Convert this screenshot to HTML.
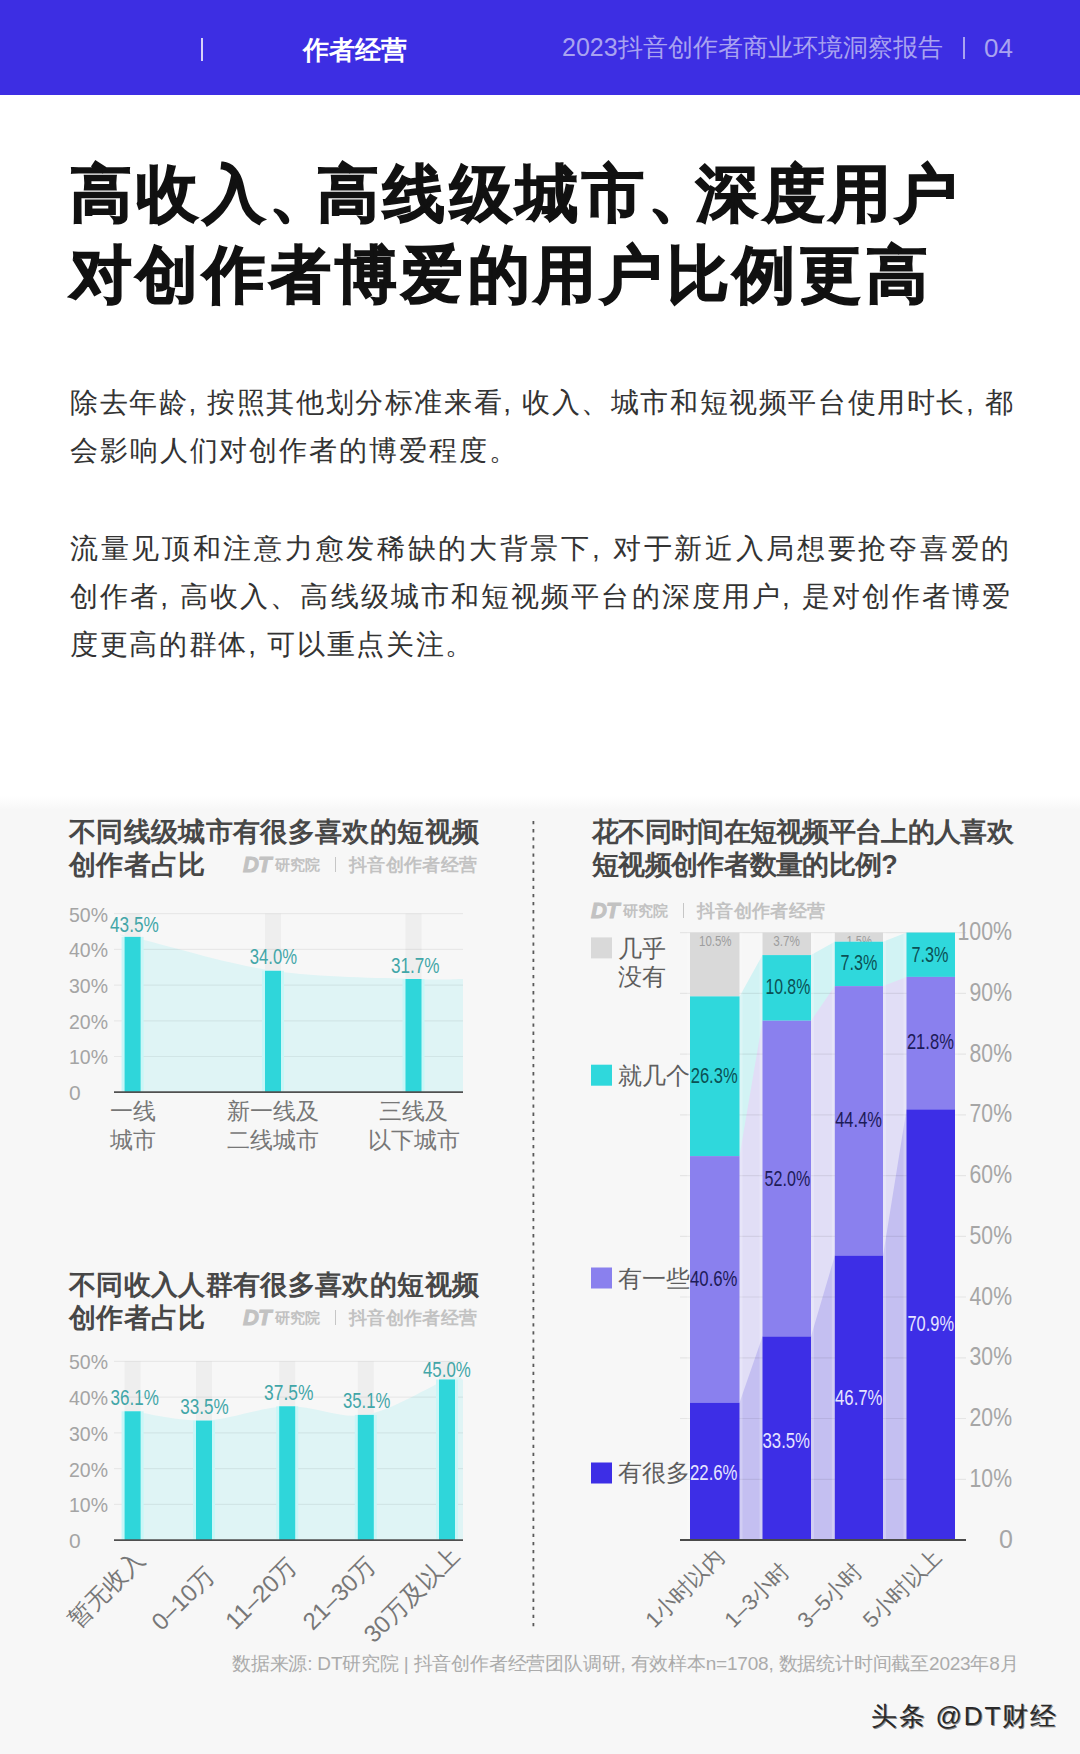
<!DOCTYPE html>
<html><head><meta charset="utf-8">
<style>
*{margin:0;padding:0;box-sizing:border-box}
html,body{width:1080px;height:1754px;overflow:hidden;background:#fff}
body{position:relative;font-family:"Liberation Sans",sans-serif;color:#333}
.a{position:absolute;white-space:nowrap;line-height:1}
#hdr{position:absolute;left:0;top:0;width:1080px;height:95px;background:#3d2ee3}
#gray{position:absolute;left:0;top:796px;width:1080px;height:958px;background:linear-gradient(#fff 0px,#f7f7f7 14px)}
.title{font-size:62px;font-weight:900;color:#111;letter-spacing:4.3px;-webkit-text-stroke:1.5px #111}
.sep{letter-spacing:-14px}
.para{font-size:28px;color:#333}
.ct{font-size:27px;font-weight:700;color:#474747}
.logo{font-size:18px;font-weight:700;color:#c2c2c2}
.dt{font-size:22px;font-weight:700;font-style:italic;color:#c2c2c2;-webkit-text-stroke:1px #c2c2c2;letter-spacing:-1px}
.yj{font-size:15px;font-weight:700;color:#c2c2c2}
svg{position:absolute;left:0;top:0}
svg text{font-family:"Liberation Sans",sans-serif}
.yl{font-size:21px;fill:#a4a4a4}
.vl{font-size:22px;fill:#42a6a8}
.cl{font-size:23px;fill:#777}
.rl{font-size:24px;fill:#777}
.rl2{font-size:22px;fill:#777}
.gl{font-size:15px;fill:#9d9d9d}
.sl{font-size:22px}
.ry{font-size:25px;fill:#a6a6a6}
.lg{font-size:24px;fill:#5e5e5e}
</style></head><body>
<div id="hdr"></div>
<div class="a" style="left:201px;top:38px;width:2px;height:23px;background:#d6d2f8"></div>
<div class="a" style="left:303px;top:37px;font-size:26px;font-weight:700;color:#fff">作者经营</div>
<div class="a" style="left:562px;top:35px;font-size:25px;color:#a9a3f0;letter-spacing:0px">2023抖音创作者商业环境洞察报告</div>
<div class="a" style="left:963px;top:37px;width:1.5px;height:22px;background:#a9a3f0"></div>
<div class="a" style="left:984px;top:35px;font-size:26px;color:#a9a3f0">04</div>

<div class="a title" style="left:70px;top:163px">高收入<span class="sep">、</span>高线级城市<span class="sep">、</span>深度用户</div>
<div class="a title" style="left:70px;top:244px">对创作者博爱的用户比例更高</div>

<div class="a para" style="left:70px;top:389px;letter-spacing:1.6px">除去年龄, 按照其他划分标准来看, 收入、城市和短视频平台使用时长, 都</div>
<div class="a para" style="left:70px;top:437px;letter-spacing:1.9px">会影响人们对创作者的博爱程度。</div>
<div class="a para" style="left:70px;top:535px;letter-spacing:2.7px">流量见顶和注意力愈发稀缺的大背景下, 对于新近入局想要抢夺喜爱的</div>
<div class="a para" style="left:70px;top:583px;letter-spacing:2.1px">创作者, 高收入、高线级城市和短视频平台的深度用户, 是对创作者博爱</div>
<div class="a para" style="left:70px;top:631px;letter-spacing:1.7px">度更高的群体, 可以重点关注。</div>

<div id="gray"></div>

<div class="a ct" style="left:69px;top:819px;letter-spacing:0.35px">不同线级城市有很多喜欢的短视频</div>
<div class="a ct" style="left:69px;top:852px;letter-spacing:0.35px">创作者占比</div>
<div class="a ct" style="left:69px;top:1272px;letter-spacing:0.35px">不同收入人群有很多喜欢的短视频</div>
<div class="a ct" style="left:69px;top:1305px;letter-spacing:0.35px">创作者占比</div>
<div class="a ct" style="left:592px;top:819px;letter-spacing:-0.7px">花不同时间在短视频平台上的人喜欢</div>
<div class="a ct" style="left:592px;top:852px;letter-spacing:-0.7px">短视频创作者数量的比例?</div>

<div class="a dt" style="left:243px;top:853.5px">DT</div>
<div class="a yj" style="left:274.5px;top:856.5px">研究院</div>
<div class="a" style="left:334.5px;top:857px;width:1.5px;height:15px;background:#c6c6c6"></div>
<div class="a logo" style="left:349px;top:855.5px;letter-spacing:0.35px">抖音创作者经营</div>
<div class="a dt" style="left:243px;top:1306.5px">DT</div>
<div class="a yj" style="left:274.5px;top:1309.5px">研究院</div>
<div class="a" style="left:334.5px;top:1310px;width:1.5px;height:15px;background:#c6c6c6"></div>
<div class="a logo" style="left:349px;top:1308.5px;letter-spacing:0.35px">抖音创作者经营</div>
<div class="a dt" style="left:591px;top:899.5px">DT</div>
<div class="a yj" style="left:622.5px;top:902.5px">研究院</div>
<div class="a" style="left:682.5px;top:903px;width:1.5px;height:15px;background:#c6c6c6"></div>
<div class="a logo" style="left:697px;top:901.5px;letter-spacing:0.35px">抖音创作者经营</div>

<svg width="1080" height="1754" viewBox="0 0 1080 1754">
<line x1="533.4" y1="821" x2="533.4" y2="1627" stroke="#5a5a5a" stroke-width="1.8" stroke-dasharray="3.3 4.8"/>
<rect x="124.6" y="913.7" width="16" height="178.5" fill="#eeeeee"/>
<rect x="265" y="913.7" width="16" height="178.5" fill="#eeeeee"/>
<rect x="405.5" y="913.7" width="16" height="178.5" fill="#eeeeee"/>
<path d="M124.6,1092.2 L124.6,936.9 C125.9,936.9 107.9,931.3 132.6,936.9 C157.3,942.6 226.2,963.8 273,970.8 C319.8,977.8 381.8,977.7 413.5,979 C445.2,980.4 454.8,979 463,979 L463,1092.2 Z" fill="#dff4f5"/>
<line x1="114" y1="913.7" x2="463" y2="913.7" stroke="#000" stroke-opacity="0.06" stroke-width="1.2"/>
<line x1="114" y1="949.4" x2="463" y2="949.4" stroke="#000" stroke-opacity="0.06" stroke-width="1.2"/>
<line x1="114" y1="985.1" x2="463" y2="985.1" stroke="#000" stroke-opacity="0.06" stroke-width="1.2"/>
<line x1="114" y1="1020.8" x2="463" y2="1020.8" stroke="#000" stroke-opacity="0.06" stroke-width="1.2"/>
<line x1="114" y1="1056.5" x2="463" y2="1056.5" stroke="#000" stroke-opacity="0.06" stroke-width="1.2"/>
<rect x="121.6" y="936.9" width="22" height="155.3" fill="#c9f6f7"/>
<rect x="262" y="970.8" width="22" height="121.4" fill="#c9f6f7"/>
<rect x="402.5" y="979" width="22" height="113.2" fill="#c9f6f7"/>
<rect x="124.6" y="936.9" width="16" height="155.3" fill="#2fd6da"/>
<text x="110" y="931.7" textLength="48.8" lengthAdjust="spacingAndGlyphs" class="vl">43.5%</text>
<rect x="265" y="970.8" width="16" height="121.4" fill="#2fd6da"/>
<text x="249.7" y="964.4" textLength="47.3" lengthAdjust="spacingAndGlyphs" class="vl">34.0%</text>
<rect x="405.5" y="979" width="16" height="113.2" fill="#2fd6da"/>
<text x="390.9" y="972.5" textLength="48.6" lengthAdjust="spacingAndGlyphs" class="vl">31.7%</text>
<line x1="114" y1="1092.2" x2="463" y2="1092.2" stroke="#505050" stroke-width="1.8"/>
<text x="69" y="921.5" class="yl" textLength="39" lengthAdjust="spacingAndGlyphs">50%</text>
<text x="69" y="957.2" class="yl" textLength="39" lengthAdjust="spacingAndGlyphs">40%</text>
<text x="69" y="992.9" class="yl" textLength="39" lengthAdjust="spacingAndGlyphs">30%</text>
<text x="69" y="1028.6" class="yl" textLength="39" lengthAdjust="spacingAndGlyphs">20%</text>
<text x="69" y="1064.3" class="yl" textLength="39" lengthAdjust="spacingAndGlyphs">10%</text>
<text x="69" y="1100" class="yl">0</text>
<text x="132.6" y="1119" class="cl" text-anchor="middle">一线</text>
<text x="132.6" y="1148" class="cl" text-anchor="middle">城市</text>
<text x="273" y="1119" class="cl" text-anchor="middle">新一线及</text>
<text x="273" y="1148" class="cl" text-anchor="middle">二线城市</text>
<text x="413.5" y="1119" class="cl" text-anchor="middle">三线及</text>
<text x="413.5" y="1148" class="cl" text-anchor="middle">以下城市</text>
<rect x="124.6" y="1361.4" width="16" height="178.8" fill="#eeeeee"/>
<rect x="196" y="1361.4" width="16" height="178.8" fill="#eeeeee"/>
<rect x="279.2" y="1361.4" width="16" height="178.8" fill="#eeeeee"/>
<rect x="357.8" y="1361.4" width="16" height="178.8" fill="#eeeeee"/>
<rect x="439" y="1361.4" width="16" height="178.8" fill="#eeeeee"/>
<path d="M124.6,1540.2 L124.6,1411.3 C125.9,1411.3 119.4,1409.8 132.6,1411.3 C145.8,1412.9 178.2,1421.4 204,1420.6 C229.8,1419.8 260.2,1407.3 287.2,1406.3 C314.2,1405.4 339.2,1419.4 365.8,1414.9 C392.4,1410.4 430.8,1385.4 447,1379.5 C463.2,1373.7 460.3,1379.5 463,1379.5 L463,1540.2 Z" fill="#dff4f5"/>
<line x1="114" y1="1361.4" x2="463" y2="1361.4" stroke="#000" stroke-opacity="0.06" stroke-width="1.2"/>
<line x1="114" y1="1397.1" x2="463" y2="1397.1" stroke="#000" stroke-opacity="0.06" stroke-width="1.2"/>
<line x1="114" y1="1432.9" x2="463" y2="1432.9" stroke="#000" stroke-opacity="0.06" stroke-width="1.2"/>
<line x1="114" y1="1468.7" x2="463" y2="1468.7" stroke="#000" stroke-opacity="0.06" stroke-width="1.2"/>
<line x1="114" y1="1504.4" x2="463" y2="1504.4" stroke="#000" stroke-opacity="0.06" stroke-width="1.2"/>
<rect x="121.6" y="1411.3" width="22" height="128.9" fill="#c9f6f7"/>
<rect x="193" y="1420.6" width="22" height="119.6" fill="#c9f6f7"/>
<rect x="276.2" y="1406.3" width="22" height="133.9" fill="#c9f6f7"/>
<rect x="354.8" y="1414.9" width="22" height="125.3" fill="#c9f6f7"/>
<rect x="436" y="1379.5" width="22" height="160.7" fill="#c9f6f7"/>
<rect x="124.6" y="1411.3" width="16" height="128.9" fill="#2fd6da"/>
<text x="110.5" y="1405.2" textLength="48.3" lengthAdjust="spacingAndGlyphs" class="vl">36.1%</text>
<rect x="196" y="1420.6" width="16" height="119.6" fill="#2fd6da"/>
<text x="180.2" y="1413.7" textLength="48.5" lengthAdjust="spacingAndGlyphs" class="vl">33.5%</text>
<rect x="279.2" y="1406.3" width="16" height="133.9" fill="#2fd6da"/>
<text x="264" y="1400" textLength="49.4" lengthAdjust="spacingAndGlyphs" class="vl">37.5%</text>
<rect x="357.8" y="1414.9" width="16" height="125.3" fill="#2fd6da"/>
<text x="343" y="1408.2" textLength="47.4" lengthAdjust="spacingAndGlyphs" class="vl">35.1%</text>
<rect x="439" y="1379.5" width="16" height="160.7" fill="#2fd6da"/>
<text x="423" y="1377" textLength="47.8" lengthAdjust="spacingAndGlyphs" class="vl">45.0%</text>
<line x1="114" y1="1540.2" x2="463" y2="1540.2" stroke="#505050" stroke-width="1.8"/>
<text x="69" y="1369.2" class="yl" textLength="39" lengthAdjust="spacingAndGlyphs">50%</text>
<text x="69" y="1404.9" class="yl" textLength="39" lengthAdjust="spacingAndGlyphs">40%</text>
<text x="69" y="1440.7" class="yl" textLength="39" lengthAdjust="spacingAndGlyphs">30%</text>
<text x="69" y="1476.5" class="yl" textLength="39" lengthAdjust="spacingAndGlyphs">20%</text>
<text x="69" y="1512.2" class="yl" textLength="39" lengthAdjust="spacingAndGlyphs">10%</text>
<text x="69" y="1548" class="yl">0</text>
<text transform="translate(145.6,1561) rotate(-45)" class="rl" text-anchor="end">暂无收入</text>
<text transform="translate(216.3,1577) rotate(-45)" class="rl" text-anchor="end">0–10万</text>
<text transform="translate(298.2,1567.8) rotate(-45)" class="rl" text-anchor="end">11–20万</text>
<text transform="translate(376.8,1567) rotate(-45)" class="rl" text-anchor="end">21–30万</text>
<text transform="translate(460.5,1557.3) rotate(-45)" class="rl" text-anchor="end">30万及以上</text>
<path d="M690,1540 L690,996.4 L739.5,996.4 L762.5,955.1 L811,955.1 L834.8,941.7 L883,941.7 L906.5,932.6 L955,932.6 L955,1540 Z" fill="#d2f3f4"/>
<path d="M690,1540 L690,1156.1 L739.5,1156.1 L762.5,1020.7 L811,1020.7 L834.8,986.1 L883,986.1 L906.5,976.9 L955,976.9 L955,1540 Z" fill="#e1def6"/>
<path d="M690,1540 L690,1402.7 L739.5,1402.7 L762.5,1336.5 L811,1336.5 L834.8,1255.7 L883,1255.7 L906.5,1109.4 L955,1109.4 L955,1540 Z" fill="#c4bff1"/>
<line x1="680" y1="932.6" x2="966" y2="932.6" stroke="#000" stroke-opacity="0.07" stroke-width="1.2"/>
<line x1="680" y1="993.3" x2="966" y2="993.3" stroke="#000" stroke-opacity="0.07" stroke-width="1.2"/>
<line x1="680" y1="1054.1" x2="966" y2="1054.1" stroke="#000" stroke-opacity="0.07" stroke-width="1.2"/>
<line x1="680" y1="1114.8" x2="966" y2="1114.8" stroke="#000" stroke-opacity="0.07" stroke-width="1.2"/>
<line x1="680" y1="1175.6" x2="966" y2="1175.6" stroke="#000" stroke-opacity="0.07" stroke-width="1.2"/>
<line x1="680" y1="1236.3" x2="966" y2="1236.3" stroke="#000" stroke-opacity="0.07" stroke-width="1.2"/>
<line x1="680" y1="1297" x2="966" y2="1297" stroke="#000" stroke-opacity="0.07" stroke-width="1.2"/>
<line x1="680" y1="1357.8" x2="966" y2="1357.8" stroke="#000" stroke-opacity="0.07" stroke-width="1.2"/>
<line x1="680" y1="1418.5" x2="966" y2="1418.5" stroke="#000" stroke-opacity="0.07" stroke-width="1.2"/>
<line x1="680" y1="1479.3" x2="966" y2="1479.3" stroke="#000" stroke-opacity="0.07" stroke-width="1.2"/>
<rect x="687" y="932.6" width="55.5" height="607.4" fill="#fff" fill-opacity="0.22"/>
<rect x="759.5" y="932.6" width="54.5" height="607.4" fill="#fff" fill-opacity="0.22"/>
<rect x="831.8" y="932.6" width="54.2" height="607.4" fill="#fff" fill-opacity="0.22"/>
<rect x="903.5" y="932.6" width="54.5" height="607.4" fill="#fff" fill-opacity="0.22"/>
<rect x="690" y="932.6" width="49.5" height="63.8" fill="#d9d9d9"/>
<rect x="762.5" y="932.6" width="48.5" height="22.5" fill="#d9d9d9"/>
<rect x="834.8" y="932.6" width="48.2" height="9.1" fill="#d9d9d9"/>
<rect x="906.5" y="932.6" width="48.5" height="0" fill="#d9d9d9"/>
<text x="699" y="945.5" textLength="32.6" lengthAdjust="spacingAndGlyphs" class="gl">10.5%</text>
<text x="773.3" y="945.5" textLength="26.7" lengthAdjust="spacingAndGlyphs" class="gl">3.7%</text>
<text x="846.5" y="945.5" textLength="25.5" lengthAdjust="spacingAndGlyphs" class="gl">1.5%</text>
<rect x="690" y="996.4" width="49.5" height="159.7" fill="#2fd8dc"/>
<rect x="690" y="1156.1" width="49.5" height="246.6" fill="#8a80ee"/>
<rect x="690" y="1402.7" width="49.5" height="137.3" fill="#3d2ee6"/>
<rect x="762.5" y="955.1" width="48.5" height="65.6" fill="#2fd8dc"/>
<rect x="762.5" y="1020.7" width="48.5" height="315.8" fill="#8a80ee"/>
<rect x="762.5" y="1336.5" width="48.5" height="203.5" fill="#3d2ee6"/>
<rect x="834.8" y="941.7" width="48.2" height="44.3" fill="#2fd8dc"/>
<rect x="834.8" y="986.1" width="48.2" height="269.7" fill="#8a80ee"/>
<rect x="834.8" y="1255.7" width="48.2" height="284.3" fill="#3d2ee6"/>
<rect x="906.5" y="932.6" width="48.5" height="44.3" fill="#2fd8dc"/>
<rect x="906.5" y="976.9" width="48.5" height="132.4" fill="#8a80ee"/>
<rect x="906.5" y="1109.4" width="48.5" height="430.6" fill="#3d2ee6"/>
<text x="690.7" y="1082.5" textLength="47" lengthAdjust="spacingAndGlyphs" class="sl" fill="#0b5054">26.3%</text>
<text x="765.4" y="993.8" textLength="44.8" lengthAdjust="spacingAndGlyphs" class="sl" fill="#0b5054">10.8%</text>
<text x="840.6" y="969.7" textLength="36.8" lengthAdjust="spacingAndGlyphs" class="sl" fill="#0b5054">7.3%</text>
<text x="911.5" y="961.6" textLength="37" lengthAdjust="spacingAndGlyphs" class="sl" fill="#0b5054">7.3%</text>
<text x="690" y="1286" textLength="47.5" lengthAdjust="spacingAndGlyphs" class="sl" fill="#1d1b58">40.6%</text>
<text x="764.6" y="1185.8" textLength="45.6" lengthAdjust="spacingAndGlyphs" class="sl" fill="#1d1b58">52.0%</text>
<text x="835.2" y="1126.8" textLength="46.8" lengthAdjust="spacingAndGlyphs" class="sl" fill="#1d1b58">44.4%</text>
<text x="906.9" y="1048.9" textLength="47" lengthAdjust="spacingAndGlyphs" class="sl" fill="#1d1b58">21.8%</text>
<text x="690" y="1480" textLength="47.5" lengthAdjust="spacingAndGlyphs" class="sl" fill="#e6e4ff">22.6%</text>
<text x="762.5" y="1447.5" textLength="47.5" lengthAdjust="spacingAndGlyphs" class="sl" fill="#e6e4ff">33.5%</text>
<text x="835" y="1405" textLength="47.5" lengthAdjust="spacingAndGlyphs" class="sl" fill="#e6e4ff">46.7%</text>
<text x="907.5" y="1331" textLength="46.5" lengthAdjust="spacingAndGlyphs" class="sl" fill="#e6e4ff">70.9%</text>
<line x1="680" y1="1540" x2="966" y2="1540" stroke="#4a4a4a" stroke-width="2"/>
<text x="957.4" y="940.1" class="ry" textLength="54.6" lengthAdjust="spacingAndGlyphs">100%</text>
<text x="969.6" y="1000.8" class="ry" textLength="42.4" lengthAdjust="spacingAndGlyphs">90%</text>
<text x="969.6" y="1061.6" class="ry" textLength="42.4" lengthAdjust="spacingAndGlyphs">80%</text>
<text x="969.6" y="1122.3" class="ry" textLength="42.4" lengthAdjust="spacingAndGlyphs">70%</text>
<text x="969.6" y="1183.1" class="ry" textLength="42.4" lengthAdjust="spacingAndGlyphs">60%</text>
<text x="969.6" y="1243.8" class="ry" textLength="42.4" lengthAdjust="spacingAndGlyphs">50%</text>
<text x="969.6" y="1304.5" class="ry" textLength="42.4" lengthAdjust="spacingAndGlyphs">40%</text>
<text x="969.6" y="1365.3" class="ry" textLength="42.4" lengthAdjust="spacingAndGlyphs">30%</text>
<text x="969.6" y="1426" class="ry" textLength="42.4" lengthAdjust="spacingAndGlyphs">20%</text>
<text x="969.6" y="1486.8" class="ry" textLength="42.4" lengthAdjust="spacingAndGlyphs">10%</text>
<text x="1013" y="1548" class="ry" text-anchor="end">0</text>
<rect x="591" y="937.4" width="21" height="21" fill="#d9d9d9"/>
<rect x="591" y="1064.7" width="21" height="21" fill="#2fd8dc"/>
<rect x="591" y="1267.5" width="21" height="21" fill="#8a80ee"/>
<rect x="591" y="1462.5" width="21" height="21" fill="#3d2ee6"/>
<text x="618" y="957" class="lg">几乎</text>
<text x="618" y="985" class="lg">没有</text>
<text x="618" y="1084" class="lg">就几个</text>
<text x="618" y="1287" class="lg">有一些</text>
<text x="618" y="1481" class="lg">有很多</text>
<text transform="translate(725.4,1558) rotate(-45)" class="rl2" text-anchor="end">1小时以内</text>
<text transform="translate(790.5,1572) rotate(-45)" class="rl2" text-anchor="end">1–3小时</text>
<text transform="translate(863.7,1572.5) rotate(-45)" class="rl2" text-anchor="end">3–5小时</text>
<text transform="translate(943,1558) rotate(-45)" class="rl2" text-anchor="end">5小时以上</text>
</svg>

<div class="a" style="left:232px;top:1654px;font-size:19px;color:#ababab;letter-spacing:-0.2px">数据来源: DT研究院 | 抖音创作者经营团队调研, 有效样本n=1708, 数据统计时间截至2023年8月</div>
<div class="a" style="left:871px;top:1703px;font-size:26px;color:#2a2a2a;letter-spacing:1.8px;text-shadow:1px 1px 0 #888">头条 @DT财经</div>
</body></html>
